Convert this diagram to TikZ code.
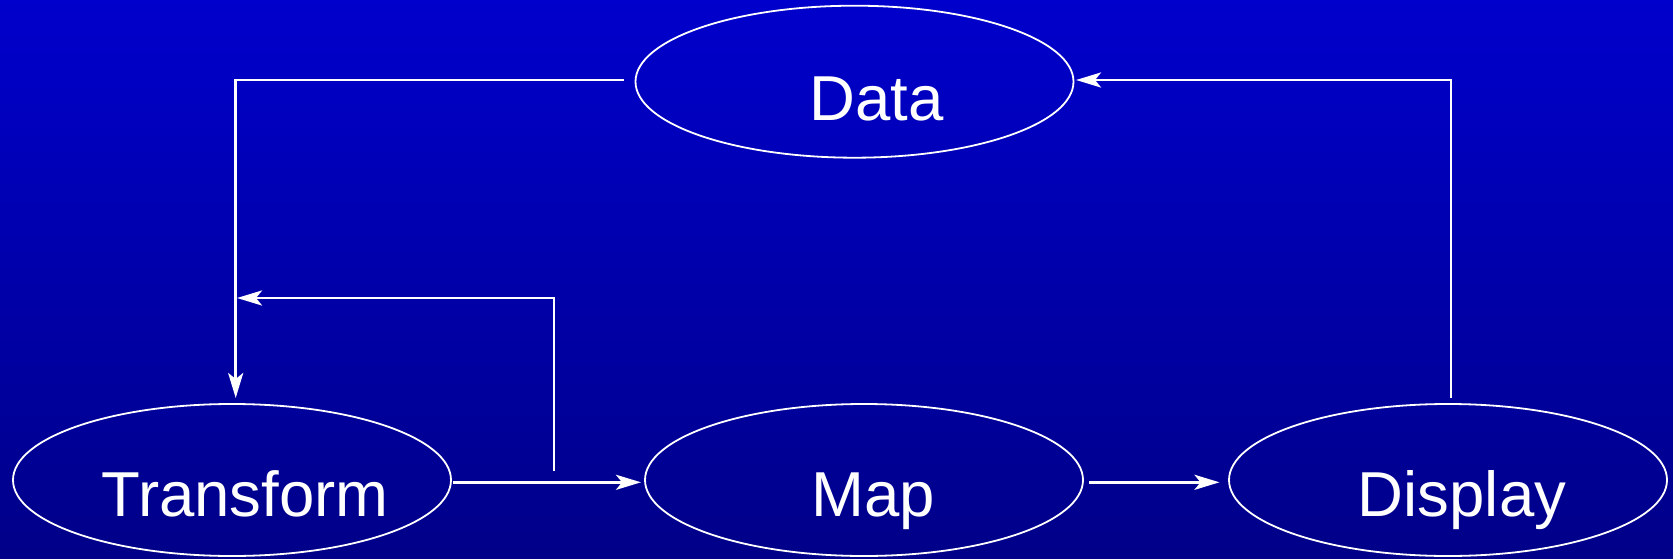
\documentclass[tikz,border=0pt]{standalone}
\usepackage{fontspec}
\setmainfont{Liberation Sans}
\usetikzlibrary{shapes.geometric,arrows.meta}
\definecolor{bgtop}{RGB}{0,0,204}
\definecolor{bgbot}{RGB}{0,0,136}
\begin{document}
\begin{tikzpicture}[x=1pt,y=-1pt,
  oval/.style={draw=white,line width=1.8pt,ellipse,minimum width=438pt,minimum height=152pt,inner sep=0pt},
  lbl/.style={text=white,font=\fontsize{63.5}{70}\selectfont,anchor=base,inner sep=0pt},
  conn/.style={draw=white,line width=2.8pt,-{Stealth[length=25pt,width=15pt,inset=6pt]}}]
\shade[top color=bgtop,bottom color=bgbot] (0,0) rectangle (1673,559);
\useasboundingbox (0,0) rectangle (1673,559);
% ellipses
\node[oval] (data) at (854.5,81.7) {};
\node[oval] (transform) at (232,480) {};
\node[oval] (map) at (864,480) {};
\node[oval] (display) at (1448,480) {};
% labels
\node[lbl] (tdata) at (876.7,120.7) {Data};
\node[lbl] (ttransform) at (245.2,516.5) {Transform};
\node[lbl] (tmap) at (873.3,516.5) {Map};
\node[lbl] (tdisplay) at (1462,516.5) {Display};
% coordinates
\coordinate (a0) at (624,80);
\coordinate (a1) at (235.7,80);
\coordinate (a2) at (235.7,398);
\coordinate (b0) at (554,471);
\coordinate (b1) at (554,298);
\coordinate (b2) at (237,298);
\coordinate (c0) at (1451,398);
\coordinate (c1) at (1451,80);
\coordinate (c2) at (1076,80);
\coordinate (d0) at (453,482.3);
\coordinate (d1) at (641,482.3);
\coordinate (e0) at (1089,482.3);
\coordinate (e1) at (1219.5,482.3);
% connectors
\draw[conn] (a0) -- (a1) -- (a2);
\draw[conn] (b0) -- (b1) -- (b2);
\draw[conn] (c0) -- (c1) -- (c2);
\draw[conn] (d0) -- (d1);
\draw[conn] (e0) -- (e1);
\end{tikzpicture}
\end{document}
